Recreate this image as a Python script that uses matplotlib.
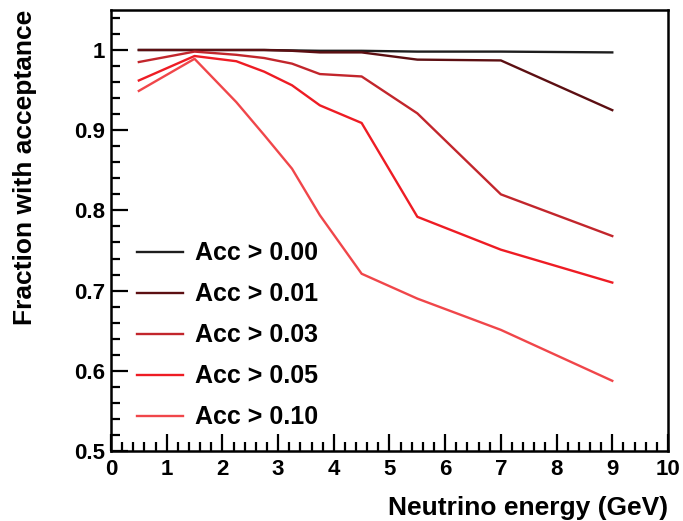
import matplotlib
matplotlib.use("Agg")
import matplotlib.pyplot as plt
from matplotlib.ticker import MultipleLocator, FuncFormatter

plt.rcParams['font.family'] = ['Liberation Sans', 'DejaVu Sans']
plt.rcParams['font.weight'] = 'bold'

energy = [0.5, 1.5, 2.25, 2.75, 3.25, 3.75, 4.5, 5.5, 7.0, 9.0]
acc_000 = [1.000, 1.000, 1.000, 1.000, 0.9995, 0.999, 0.999, 0.998, 0.998, 0.997]
acc_001 = [1.000, 1.000, 1.000, 1.000, 0.999, 0.997, 0.997, 0.988, 0.987, 0.925]
acc_003 = [0.985, 0.998, 0.994, 0.990, 0.983, 0.970, 0.967, 0.921, 0.820, 0.768]
acc_005 = [0.962, 0.9925, 0.986, 0.973, 0.956, 0.931, 0.909, 0.792, 0.751, 0.710]
acc_010 = [0.949, 0.989, 0.935, 0.894, 0.852, 0.794, 0.721, 0.690, 0.651, 0.5875]

labels = ["Acc > 0.00", "Acc > 0.01", "Acc > 0.03", "Acc > 0.05", "Acc > 0.10"]
series = [acc_000, acc_001, acc_003, acc_005, acc_010]
colors = ["#1e1e1e", "#5c0f12", "#c2262c", "#ee1c24", "#f0464a"]

fig = plt.figure(figsize=(6.83, 5.21), dpi=100)
ax = fig.add_axes([0.1625, 0.1344, 0.8155, 0.8466])

for y, lab, c in zip(series, labels, colors):
    ax.plot(energy, y, color=c, lw=1.7, label=lab)

ax.set_xlim(0, 10)
ax.set_ylim(0.5, 1.05)
ax.xaxis.set_major_locator(MultipleLocator(1))
ax.xaxis.set_minor_locator(MultipleLocator(0.2))
ax.yaxis.set_major_locator(MultipleLocator(0.1))
ax.yaxis.set_minor_locator(MultipleLocator(0.02))
ax.yaxis.set_major_formatter(FuncFormatter(lambda v, p: f"{v:g}"))
ax.tick_params(which='both', direction='in', top=False, right=False, labelsize=16, width=1.6)
ax.tick_params(which='major', length=12)
ax.tick_params(which='minor', length=6.5)
ax.tick_params(axis='x', which='major', pad=6)
ax.tick_params(axis='y', which='major', pad=4)
for sp in ax.spines.values():
    sp.set_linewidth(1.8)

ax.set_xlabel("Neutrino energy (GeV)", fontsize=19, fontweight='bold', loc='right', labelpad=11)
ax.set_ylabel("Fraction with acceptance", fontsize=19, fontweight='bold', loc='top', labelpad=27)

ax.legend(loc='upper left', bbox_to_anchor=(0.047, 0.475), frameon=False, fontsize=18,
          handlelength=1.85, handletextpad=0.45, labelspacing=0.68, borderaxespad=0.0,
          borderpad=0.0)

fig.savefig("out.png", dpi=100)
